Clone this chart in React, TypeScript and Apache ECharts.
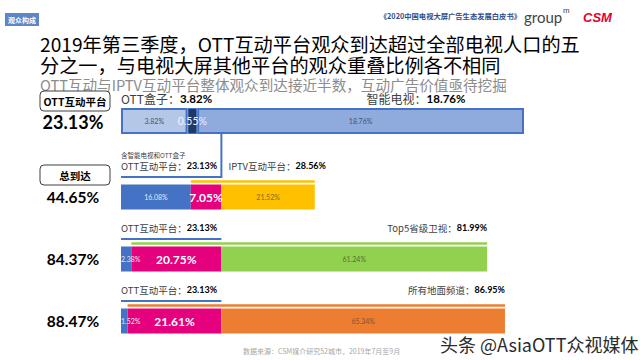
import React, { useEffect, useRef } from 'react';
import * as echarts from 'echarts';

// ---- data ----
const ottReach = 23.13;
const ottBoxReach = 3.82;
const smartTvReach = 18.76;
const row1Names = ['OTT盒子', '重叠', '智能电视'];
const row1Values = [3.82, 0.55, 18.76];

const otherPlatforms = ['IPTV互动平台', 'Top5省级卫视', '所有地面频道'];
const ottOnly = [16.08, 2.38, 1.52];
const overlapShare = [7.05, 20.75, 21.61];
const otherOnly = [21.52, 61.24, 65.34];
const totalReach = [44.65, 84.37, 88.47];
const otherReach = [28.56, 81.99, 86.95];

// ---- styles ----
const CJK = '"Noto Sans CJK SC", "Noto Sans", sans-serif';
const NUM = 'Lato, "Noto Sans", sans-serif';
const blue = '#4472C4';
const magenta = '#E5007E';
const otherColors = ['#FFC000', '#92D050', '#ED7D31'];
const otherLabelColors = ['#806a2a', '#4f7133', '#8a4f2c'];
const row1Colors = ['#B4C7E7', '#1F3864', '#8FAADC'];

const richLabel = (size: number, numSize: number) => ({
  a: { fontFamily: CJK, fontSize: size, fill: '#404040', color: '#404040', lineHeight: size + 1 },
  b: { fontFamily: NUM, fontSize: numSize, fontWeight: 'bold', fill: '#000', color: '#000', lineHeight: size + 1 },
});

const mid = { verticalAlign: 'middle', textVerticalAlign: 'middle' };
const left = { align: 'left', textAlign: 'left', ...mid };
const center = { align: 'center', textAlign: 'center', ...mid };
const right = { align: 'right', textAlign: 'right', ...mid };

function renderAnno(params: any, api: any) {
  const i = params.dataIndex;
  const p0 = api.coord([0, i]);
  const pOtt = api.coord([ottReach, i]);
  const pS = api.coord([ottOnly[i], i]);
  const pE = api.coord([totalReach[i], i]);
  const yc = p0[1];
  const yBlue = yc - 20;
  const yCol = yc - 15.5;
  const yText = yc - 31.5;
  const children: any[] = [];
  if (i === 0) {
    children.push({
      type: 'polyline',
      shape: { points: [[p0[0], yBlue], [pOtt[0], yBlue], [pOtt[0], yc - 63]] },
      style: { stroke: blue, lineWidth: 2, fill: null },
    });
  } else {
    children.push({
      type: 'line',
      shape: { x1: p0[0], y1: yBlue, x2: pOtt[0], y2: yBlue },
      style: { stroke: blue, lineWidth: 2 },
    });
  }
  children.push({
    type: 'line',
    shape: { x1: pS[0], y1: yCol, x2: pE[0], y2: yCol },
    style: { stroke: otherColors[i], lineWidth: 2.5 },
  });
  children.push({
    type: 'text',
    x: p0[0],
    y: yText,
    style: { text: `{a|OTT互动平台：}{b|${ottReach.toFixed(2)}%}`, rich: richLabel(9.5, 9), ...left },
  });
  const rightText = `{a|${otherPlatforms[i]}：}{b|${otherReach[i].toFixed(2)}%}`;
  if (i === 0) {
    children.push({
      type: 'text',
      x: pOtt[0] + 7,
      y: yText,
      style: { text: rightText, rich: richLabel(9.5, 9), ...left },
    });
    children.push({
      type: 'text',
      x: p0[0],
      y: yc - 42.5,
      style: { text: '含智能电视和OTT盒子', fontFamily: CJK, fontSize: 6.5, lineHeight: 7, fill: '#404040', ...left },
    });
  } else {
    children.push({
      type: 'text',
      x: pE[0],
      y: yText,
      style: { text: rightText, rich: richLabel(9.5, 9), ...right },
    });
  }
  return { type: 'group', children };
}

function buildOption(): any {
  const smallLbl = (color: string) => ({
    show: true,
    position: 'inside',
    formatter: (p: any) => `${p.value.toFixed(2)}%`,
    fontFamily: NUM,
    fontSize: 7,
    color,
  });
  return {
    animation: false,
    backgroundColor: '#ffffff',
    grid: [
      { left: 121, top: 108, width: 403, height: 26 },
      { left: 121, top: 166, width: 434, height: 186 },
    ],
    xAxis: [
      { type: 'value', gridIndex: 0, min: 0, max: row1Values.reduce((a, b) => a + b, 0), show: false },
      { type: 'value', gridIndex: 1, min: 0, max: 100, show: false },
    ],
    yAxis: [
      { type: 'category', gridIndex: 0, data: ['OTT'], show: false },
      { type: 'category', gridIndex: 1, data: otherPlatforms, inverse: true, show: false },
    ],
    series: [
      ...row1Values.map((v, k) => ({
        type: 'bar',
        name: row1Names[k],
        xAxisIndex: 0,
        yAxisIndex: 0,
        stack: 'r1',
        barWidth: 26,
        itemStyle: { color: row1Colors[k], borderColor: blue, borderWidth: k === 1 ? 1 : 2 },
        label:
          k === 1
            ? { show: true, position: 'inside', formatter: `${v.toFixed(2)}%`, fontFamily: NUM, fontSize: 10.5, color: '#eef3fb' }
            : { show: true, position: 'inside', formatter: `${v.toFixed(2)}%`, fontFamily: NUM, fontSize: 7, color: '#44546A' },
        data: [v],
      })),
      {
        type: 'bar',
        name: 'OTT独有',
        xAxisIndex: 1,
        yAxisIndex: 1,
        stack: 'r',
        barWidth: 25,
        itemStyle: { color: blue },
        data: ottOnly.map((v, i) => ({
          value: v,
          label: { ...smallLbl('#E4EAF6'), position: i === 0 ? 'inside' : 'insideLeft', distance: 0 },
        })),
      },
      {
        type: 'bar',
        name: '重叠',
        xAxisIndex: 1,
        yAxisIndex: 1,
        stack: 'r',
        barWidth: 25,
        itemStyle: { color: magenta },
        label: {
          show: true,
          position: 'inside',
          formatter: (p: any) => `${p.value.toFixed(2)}%`,
          fontFamily: NUM,
          fontWeight: 'bold',
          fontSize: 12,
          color: '#ffffff',
        },
        data: overlapShare,
      },
      {
        type: 'bar',
        name: '其他独有',
        xAxisIndex: 1,
        yAxisIndex: 1,
        stack: 'r',
        barWidth: 25,
        data: otherOnly.map((v, i) => ({
          value: v,
          itemStyle: { color: otherColors[i] },
          label: smallLbl(otherLabelColors[i]),
        })),
      },
      {
        type: 'custom',
        xAxisIndex: 1,
        yAxisIndex: 1,
        clip: false,
        silent: true,
        renderItem: renderAnno,
        data: otherPlatforms.map((_, i) => [0, i]),
        z: 5,
      },
    ],
    graphic: [
      { type: 'rect', shape: { x: 5, y: 13, width: 34, height: 13 }, style: { fill: '#5B86C8' } },
      { type: 'text', x: 22, y: 19.5, style: { text: '观众构成', fontFamily: CJK, fontSize: 7, lineHeight: 8, fontWeight: 'bold', fill: '#fff', ...center } },
      { type: 'text', x: 521, y: 16, style: { text: '《2020中国电视大屏广告生态发展白皮书》', fontFamily: CJK, fontSize: 7.3, lineHeight: 8, fontWeight: 'bold', fill: '#2E4D8C', ...right } },
      { type: 'text', x: 524, y: 17, style: { text: 'group', fontFamily: NUM, fontSize: 15, lineHeight: 15, fill: '#444', ...left } },
      { type: 'text', x: 563, y: 10, style: { text: 'm', fontFamily: NUM, fontSize: 8, lineHeight: 8, fill: '#444', ...left } },
      { type: 'text', x: 583, y: 17, style: { text: 'CSM', fontFamily: '"Liberation Sans", sans-serif', fontSize: 13, lineHeight: 13, fontWeight: 'bold', fontStyle: 'italic', fill: '#E4002B', ...left } },
      { type: 'text', x: 40, y: 43.5, style: { text: '2019年第三季度，OTT互动平台观众到达超过全部电视人口的五', fontFamily: CJK, fontSize: 19.2, lineHeight: 19, fill: '#000', ...left } },
      { type: 'text', x: 40, y: 65, style: { text: '分之一，与电视大屏其他平台的观众重叠比例各不相同', fontFamily: CJK, fontSize: 19.2, lineHeight: 19, fill: '#000', ...left } },
      { type: 'text', x: 40, y: 84, style: { text: 'OTT互动与IPTV互动平台整体观众到达接近半数，互动广告价值亟待挖掘', fontFamily: CJK, fontSize: 14.6, lineHeight: 14.6, fill: '#8C8C8C', ...left } },
      { type: 'text', x: 121, y: 98.5, style: { text: `{a|OTT盒子：}{b|${ottBoxReach.toFixed(2)}%}`, rich: richLabel(12, 11.5), ...left } },
      { type: 'text', x: 416, y: 98.5, style: { text: `{a|智能电视：}{b|${smartTvReach.toFixed(2)}%}`, rich: richLabel(12, 11.5), ...center } },
      { type: 'rect', shape: { x: 40, y: 91, width: 70, height: 20, r: 4 }, style: { fill: '#fff', stroke: '#404040', lineWidth: 1 } },
      { type: 'text', x: 75, y: 101, style: { text: 'OTT互动平台', fontFamily: CJK, fontSize: 10.5, lineHeight: 11, fontWeight: 'bold', fill: '#000', ...center } },
      { type: 'text', x: 73, y: 122, style: { text: `${ottReach.toFixed(2)}%`, fontFamily: NUM, fontSize: 18, lineHeight: 18, fontWeight: 'bold', fill: '#000', ...center } },
      { type: 'rect', shape: { x: 40, y: 165, width: 70, height: 20, r: 4 }, style: { fill: '#fff', stroke: '#404040', lineWidth: 1 } },
      { type: 'text', x: 75, y: 175, style: { text: '总到达', fontFamily: CJK, fontSize: 10.5, lineHeight: 11, fontWeight: 'bold', fill: '#000', ...center } },
      ...totalReach.map((v, i) => ({
        type: 'text',
        x: 73,
        y: [197, 258.5, 321][i],
        style: { text: `${v.toFixed(2)}%`, fontFamily: NUM, fontSize: 15.5, lineHeight: 16, fontWeight: 'bold', fill: '#000', ...center },
      })),
      { type: 'text', x: 243, y: 351, style: { text: '数据来源：CSM媒介研究52城市，2019年7月至9月', fontFamily: CJK, fontSize: 7, lineHeight: 8, fill: '#A6A6A6', ...left } },
      { type: 'text', x: 440, y: 344, z: 100, style: { text: '头条 @AsiaOTT众视媒体', fontFamily: CJK, fontSize: 18, lineHeight: 18, fill: '#2b2b2b', stroke: '#ffffff', lineWidth: 2, ...left } },
    ],
  };
}

export default function App() {
  const ref = useRef<HTMLDivElement>(null);
  useEffect(() => {
    if (!ref.current) return;
    const chart = echarts.init(ref.current, undefined, { renderer: 'svg' });
    chart.setOption(buildOption());
    return () => chart.dispose();
  }, []);
  return (
    <div
      ref={ref}
      style={{ position: 'fixed', left: 0, top: 0, width: 640, height: 360, background: '#fff' }}
    />
  );
}
